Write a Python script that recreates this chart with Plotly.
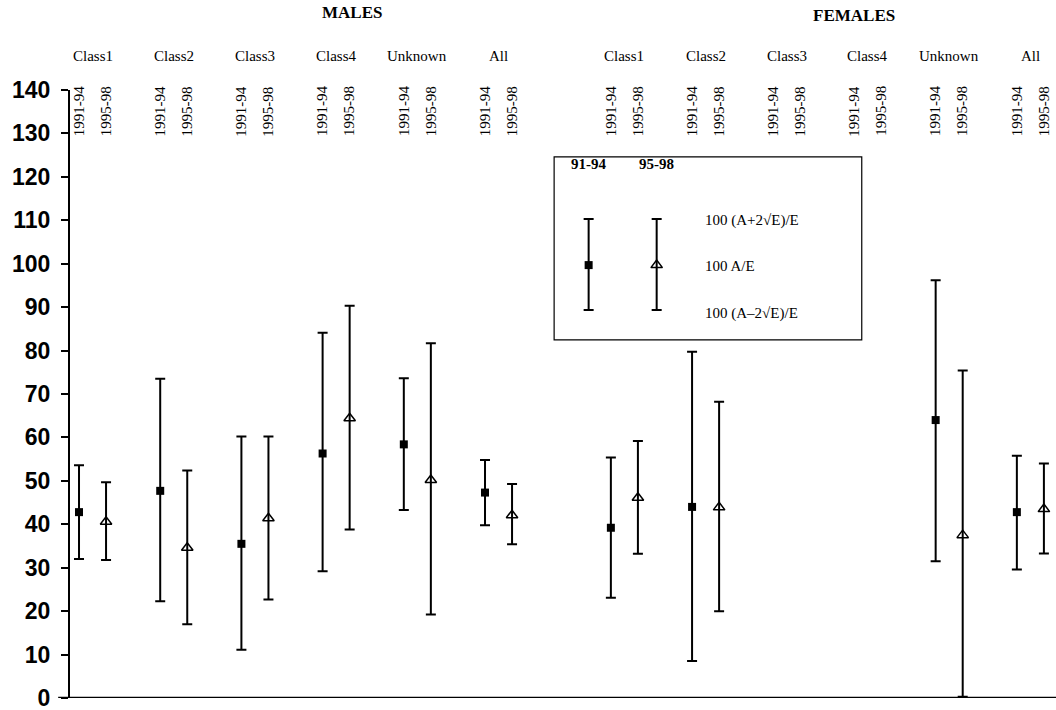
import plotly.graph_objects as go

# ---------------- data ----------------
groups = ["Class1", "Class2", "Class3", "Class4", "Unknown", "All"]
periods = ["1991-94", "1995-98"]

# Males: 100 A/E and the bounds 100(A±2√E)/E
male_mid_9194 = [42.8, 47.7, 35.5, 56.3, 58.4, 47.3]
male_hi_9194 = [53.6, 73.5, 60.2, 84.1, 73.6, 54.8]
male_lo_9194 = [32.0, 22.3, 11.1, 29.2, 43.3, 39.8]

male_mid_9598 = [40.6, 34.6, 41.4, 64.4, 50.2, 42.1]
male_hi_9598 = [49.7, 52.4, 60.2, 90.3, 81.7, 49.3]
male_lo_9598 = [31.8, 17.0, 22.7, 38.8, 19.2, 35.4]

# Females (no values for Class3 / Class4)
female_mid_9194 = [39.2, 44.0, None, None, 64.0, 42.8]
female_hi_9194 = [55.4, 79.7, None, None, 96.2, 55.8]
female_lo_9194 = [23.1, 8.5, None, None, 31.5, 29.6]

female_mid_9598 = [46.1, 43.9, None, None, 37.5, 43.5]
female_hi_9598 = [59.2, 68.2, None, None, 75.4, 54.0]
female_lo_9598 = [33.2, 20.0, None, None, 0.3, 33.3]

y_ticks = [0, 10, 20, 30, 40, 50, 60, 70, 80, 90, 100, 110, 120, 130, 140]

# ---------------- layout helpers ----------------
SEX_OFFSET = {"MALES": 0.0, "FEMALES": 6.55}
PERIOD_OFFSET = [0.0, 0.333]
SERIF = "Liberation Serif"


def xs(sex, p):
    return [SEX_OFFSET[sex] + i + PERIOD_OFFSET[p] for i in range(len(groups))]


def err(mid, hi, lo):
    plus = [None if m is None else h - m for m, h in zip(mid, hi)]
    minus = [None if m is None else m - l for m, l in zip(mid, lo)]
    return plus, minus


fig = go.Figure()

square = dict(symbol="square", size=8, color="black")
triangle = dict(symbol="triangle-up-open", size=10, color="black", line=dict(width=1.5, color="black"))

series = [
    ("MALES", 0, male_mid_9194, male_hi_9194, male_lo_9194, square),
    ("MALES", 1, male_mid_9598, male_hi_9598, male_lo_9598, triangle),
    ("FEMALES", 0, female_mid_9194, female_hi_9194, female_lo_9194, square),
    ("FEMALES", 1, female_mid_9598, female_hi_9598, female_lo_9598, triangle),
]

for sex, p, mid, hi, lo, mk in series:
    plus, minus = err(mid, hi, lo)
    fig.add_trace(go.Scatter(
        x=xs(sex, p), y=mid, mode="markers", marker=mk,
        error_y=dict(type="data", symmetric=False, array=plus, arrayminus=minus,
                     color="black", thickness=2, width=5),
        showlegend=False, hoverinfo="skip",
    ))

# ---------------- key box (drawn on an auxiliary 0..1 axis pair) ----------------
key_x = [0.526, 0.595]
key_mid = [0.712, 0.712]
key_hi = [0.788, 0.788]
key_lo = [0.638, 0.638]
for i, mk in enumerate([square, triangle]):
    fig.add_trace(go.Scatter(
        x=[key_x[i]], y=[key_mid[i]], mode="markers", marker=mk,
        error_y=dict(type="data", symmetric=False,
                     array=[key_hi[i] - key_mid[i]], arrayminus=[key_mid[i] - key_lo[i]],
                     color="black", thickness=2, width=5),
        xaxis="x2", yaxis="y2", showlegend=False, hoverinfo="skip",
    ))

fig.add_shape(type="rect", xref="paper", yref="paper", x0=0.491, x1=0.803, y0=0.589, y1=0.890,
              line=dict(color="black", width=1.2), fillcolor="rgba(0,0,0,0)")


def note(x, y, text, size, xref="paper", xanchor="center", angle=0):
    fig.add_annotation(x=x, y=y, xref=xref, yref="paper", text=text, showarrow=False,
                       xanchor=xanchor, yanchor="middle", textangle=angle,
                       font=dict(family=SERIF, size=size, color="black"))


for txt, x in zip(["91-94", "95-98"], [0.526, 0.595]):
    note(x, 0.878, "<b>%s</b>" % txt, 15)
for txt, y in zip(["100 (A+2√E)/E", "100 A/E", "100 (A–2√E)/E"], [0.786, 0.711, 0.633]):
    note(0.642, y, txt, 15, xanchor="left")

# ---------------- header texts ----------------
note(0.286, 1.128, "<b>MALES</b>", 17)
note(0.795, 1.122, "<b>FEMALES</b>", 17)

for sex in ["MALES", "FEMALES"]:
    for i, g in enumerate(groups):
        cx = SEX_OFFSET[sex] + i + PERIOD_OFFSET[1] / 2
        note(cx, 1.056, g, 15, xref="x")
        for p, per in enumerate(periods):
            note(SEX_OFFSET[sex] + i + PERIOD_OFFSET[p], 0.965, per, 15, xref="x", angle=-90)

# x-axis baseline extending a little left of the y axis
fig.add_shape(type="line", xref="paper", yref="y", x0=-0.012, x1=1.0, y0=0, y1=0,
              line=dict(color="black", width=2.5))

fig.update_layout(
    width=1056, height=710,
    margin=dict(l=70, r=0, t=90, b=12),
    paper_bgcolor="white", plot_bgcolor="white",
    xaxis=dict(range=[-0.111, 12.032], showgrid=False, zeroline=False, showticklabels=False,
               showline=False, ticks=""),
    yaxis=dict(range=[0, 140], tickvals=y_ticks, showgrid=False, zeroline=False,
               showline=True, linecolor="black", linewidth=2,
               ticks="outside", ticklen=7, tickcolor="black", tickwidth=1.5,
               ticklabelstandoff=6, ticklabeloverflow="allow",
               tickfont=dict(family="Liberation Sans", size=23, color="black", weight="bold")),
    xaxis2=dict(range=[0, 1], overlaying="x", visible=False),
    yaxis2=dict(range=[0, 1], overlaying="y", visible=False),
)

fig.write_html("out.html")
